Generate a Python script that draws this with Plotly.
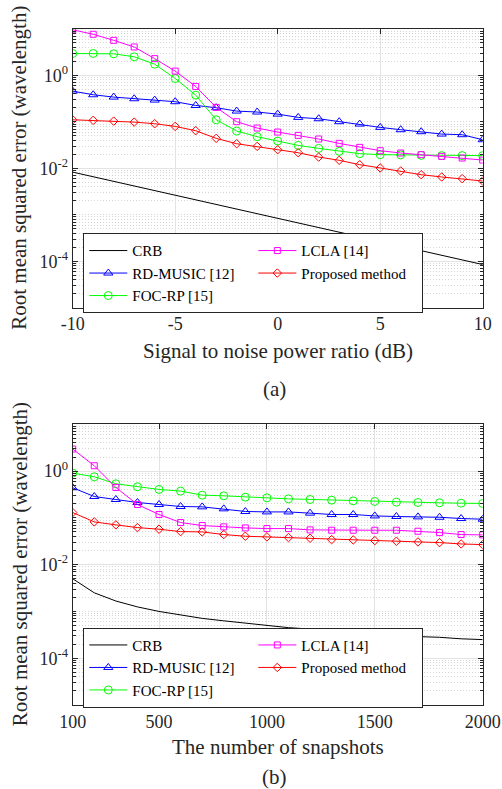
import plotly.graph_objects as go

# ---------------- data: (a) RMSE vs SNR ----------------
snr_db = [-10, -9, -8, -7, -6, -5, -4, -3, -2, -1, 0, 1, 2, 3, 4, 5, 6, 7, 8, 9, 10]
crb_a = [8.3e-3, 6.6e-3, 5.2e-3, 4.2e-3, 3.3e-3, 2.6e-3, 2.1e-3, 1.66e-3, 1.32e-3, 1.05e-3,
         8.4e-4, 6.7e-4, 5.3e-4, 4.2e-4, 3.35e-4, 2.66e-4, 2.1e-4, 1.68e-4, 1.34e-4, 1.06e-4, 8.5e-5]
rdmusic_a = [0.46, 0.384, 0.342, 0.315, 0.295, 0.272, 0.226, 0.202, 0.171, 0.163, 0.147,
             0.125, 0.117, 0.101, 0.0898, 0.0762, 0.0679, 0.0615, 0.0547, 0.053, 0.0413]
focrp_a = [2.97, 2.97, 2.92, 2.52, 1.75, 0.86, 0.378, 0.111, 0.0635, 0.048, 0.0387,
           0.0312, 0.0269, 0.0232, 0.0207, 0.0197, 0.0195, 0.019, 0.0188, 0.0188, 0.0188]
lcla_a = [9.6, 7.7, 5.7, 4.1, 2.3, 1.24, 0.58, 0.205, 0.101, 0.0737, 0.0604,
          0.0513, 0.0428, 0.0345, 0.0283, 0.024, 0.0214, 0.0197, 0.0181, 0.0167, 0.0151]
proposed_a = [0.111, 0.108, 0.104, 0.099, 0.0914, 0.080, 0.0646, 0.0442, 0.0339, 0.0297, 0.0252,
              0.0217, 0.0175, 0.0149, 0.012, 0.0102, 0.00877, 0.0073, 0.00652, 0.0060, 0.00534]

# ---------------- data: (b) RMSE vs snapshots ----------------
snapshots = [100, 200, 300, 400, 500, 600, 700, 800, 900, 1000,
             1100, 1200, 1300, 1400, 1500, 1600, 1700, 1800, 1900, 2000]
crb_b = [5.0e-3, 2.5e-3, 1.67e-3, 1.25e-3, 1.0e-3, 8.3e-4, 7.1e-4, 6.3e-4, 5.6e-4, 5.0e-4,
         4.5e-4, 4.2e-4, 3.8e-4, 3.6e-4, 3.3e-4, 3.1e-4, 2.9e-4, 2.8e-4, 2.6e-4, 2.5e-4]
rdmusic_b = [0.44, 0.286, 0.247, 0.213, 0.193, 0.175, 0.172, 0.156, 0.137, 0.134,
             0.134, 0.126, 0.118, 0.118, 0.110, 0.107, 0.105, 0.103, 0.0968, 0.0936]
focrp_b = [0.906, 0.756, 0.535, 0.462, 0.405, 0.373, 0.306, 0.296, 0.277, 0.268,
           0.255, 0.247, 0.239, 0.231, 0.224, 0.217, 0.213, 0.21, 0.206, 0.203]
lcla_b = [2.96, 1.30, 0.447, 0.193, 0.118, 0.0794, 0.0685, 0.0642, 0.061, 0.059,
          0.059, 0.0553, 0.0544, 0.0544, 0.0544, 0.0544, 0.0518, 0.0485, 0.044, 0.0432]
proposed_b = [0.130, 0.082, 0.0708, 0.062, 0.0572, 0.0509, 0.0501, 0.044, 0.0405, 0.0392,
              0.0379, 0.0367, 0.0343, 0.0338, 0.0327, 0.0316, 0.0306, 0.0296, 0.0277, 0.0268]

# tick labels
snr_ticks = [-10, -5, 0, 5, 10]
snr_ticktext = ["-10", "-5", "0", "5", "10"]
snap_ticks = [100, 500, 1000, 1500, 2000]
snap_ticktext = ["100", "500", "1000", "1500", "2000"]
y_tickvals = [1e-4, 1e-2, 1]
y_ticktext = ["10<sup>-4</sup>", "10<sup>-2</sup>", "10<sup>0</sup>"]

names = ["CRB", "RD-MUSIC [12]", "FOC-RP [15]", "LCLA [14]", "Proposed method"]
colors = ["#000000", "#0000FF", "#00FF00", "#FF00FF", "#FF0000"]
symbols = [None, "triangle-up-open", "circle-open", "square-open", "diamond-open"]
msizes = [0, 8, 8, 6, 6.5]
ranks = [1, 3, 5, 2, 4]

FONT = "Liberation Serif"
AX = "#262626"

fig = go.Figure()

def add_series(x, ys, xa, ya, leg):
    for i, y in enumerate(ys):
        kw = dict(x=x, y=y, name=names[i], xaxis=xa, yaxis=ya, legend=leg,
                  legendrank=ranks[i], line=dict(color=colors[i], width=1))
        if symbols[i] is None:
            kw["mode"] = "lines"
        else:
            kw["mode"] = "lines+markers"
            kw["marker"] = dict(symbol=symbols[i], size=msizes[i], color=colors[i],
                                line=dict(width=1, color=colors[i]))
        fig.add_trace(go.Scatter(**kw))

add_series(snr_db, [crb_a, rdmusic_a, focrp_a, lcla_a, proposed_a], "x", "y", "legend")
add_series(snapshots, [crb_b, rdmusic_b, focrp_b, lcla_b, proposed_b], "x2", "y2", "legend2")

xdom = [72.7 / 502, 482.7 / 502]
common_x = dict(showline=True, linecolor=AX, linewidth=1, mirror="ticks", ticks="inside",
                ticklen=5, tickcolor=AX, showgrid=True, gridcolor="#e3e3e3", gridwidth=1,
                zeroline=False, automargin=False,
                tickfont=dict(family=FONT, size=18, color=AX), domain=xdom)
common_y = dict(type="log", range=[-5, 1], tickvals=y_tickvals, ticktext=y_ticktext,
                showline=True, linecolor=AX, linewidth=1, mirror="ticks", ticks="inside",
                ticklen=5, tickcolor=AX, showgrid=True, gridcolor="#e3e3e3", gridwidth=1,
                zeroline=False, automargin=False,
                tickfont=dict(family=FONT, size=18, color=AX),
                minor=dict(dtick="D1", ticks="inside", ticklen=3, tickcolor=AX,
                           showgrid=True, gridcolor="#d6d6d6", griddash="1px,2px", gridwidth=1))

legend_common = dict(xanchor="left", yanchor="top", orientation="h", entrywidth=116,
                     entrywidthmode="pixels", itemwidth=38, bgcolor="white",
                     bordercolor=AX, borderwidth=1, traceorder="normal",
                     font=dict(family=FONT, size=15, color="#000000"))

fig.update_layout(
    width=502, height=789, margin=dict(l=0, r=0, t=0, b=0, autoexpand=False),
    paper_bgcolor="white", plot_bgcolor="white", showlegend=True,
    font=dict(family=FONT, color=AX),
    xaxis=dict(common_x, range=[-10, 10], tickvals=snr_ticks, ticktext=snr_ticktext, anchor="y"),
    yaxis=dict(common_y, domain=[1 - 307.7 / 789, 1 - 29 / 789], anchor="x"),
    xaxis2=dict(common_x, range=[100, 2000], tickvals=snap_ticks, ticktext=snap_ticktext,
                anchor="y2"),
    yaxis2=dict(common_y, domain=[1 - 705 / 789, 1 - 424.3 / 789], anchor="x2"),
    legend=dict(legend_common, x=83.3 / 502, y=1 - 233.3 / 789),
    legend2=dict(legend_common, x=83.3 / 502, y=1 - 627.7 / 789),
)

ann_font = dict(family=FONT, size=21, color=AX)
annotations = [
    dict(text="Root mean squared error (wavelength)", x=19.5 / 502, y=1 - 168.3 / 789,
         textangle=-90),
    dict(text="Root mean squared error (wavelength)", x=19.5 / 502, y=1 - 564.7 / 789,
         textangle=-90),
    dict(text="Signal to noise power ratio (dB)", x=277.7 / 502, y=1 - 351 / 789),
    dict(text="(a)", x=274 / 502, y=1 - 389 / 789),
    dict(text="The number of snapshots", x=277.7 / 502, y=1 - 747 / 789),
    dict(text="(b)", x=274 / 502, y=1 - 777 / 789),
]
for a in annotations:
    fig.add_annotation(xref="paper", yref="paper", showarrow=False, xanchor="center",
                       yanchor="middle", font=ann_font, **a)

fig.write_html("out.html", config={"displayModeBar": False},
               post_script="document.body.style.margin='0';document.body.style.overflow='hidden';")
